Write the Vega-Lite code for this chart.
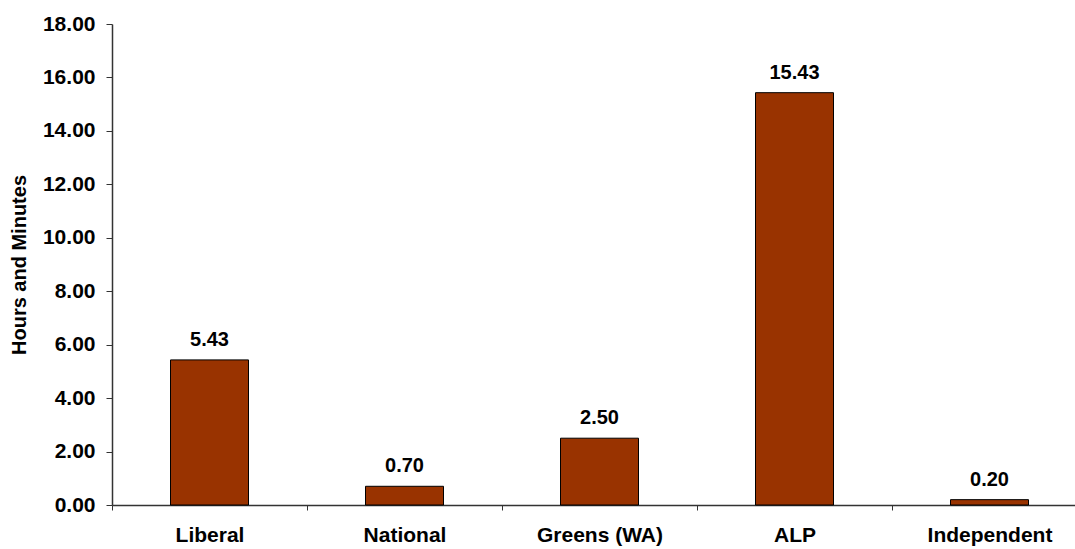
{
  "$schema": "https://vega.github.io/schema/vega-lite/v6.json",
  "autosize": {"type": "none"},
  "width": 963,
  "height": 481,
  "padding": {"left": 112, "top": 24, "right": 0, "bottom": 44},
  "background": "white",
  "config": {
    "view": {"stroke": null},
    "font": "Liberation Sans"
  },
  "data": {
    "values": [
      {"party": "Liberal", "hours": 5.43},
      {"party": "National", "hours": 0.70},
      {"party": "Greens (WA)", "hours": 2.50},
      {"party": "ALP", "hours": 15.43},
      {"party": "Independent", "hours": 0.20}
    ]
  },
  "encoding": {
    "x": {
      "field": "party",
      "type": "nominal",
      "sort": null,
      "scale": {"paddingInner": 0, "paddingOuter": 0, "range": [0, 975]},
      "axis": {
        "title": null,
        "labelAngle": 0,
        "labelFont": "Liberation Sans",
        "labelFontWeight": "bold",
        "labelFontSize": 21,
        "labelColor": "black",
        "labelPadding": 14,
        "tickBand": "extent",
        "tickSize": 5,
        "tickColor": "#333",
        "domainColor": "#333",
        "domainWidth": 1.5,
        "grid": false
      }
    },
    "y": {
      "field": "hours",
      "type": "quantitative",
      "scale": {"domain": [0, 18], "nice": false},
      "axis": {
        "title": "Hours and Minutes",
        "titleFont": "Liberation Sans",
        "titleFontSize": 20,
        "titleFontWeight": "bold",
        "titleColor": "black",
        "titlePadding": 13,
        "values": [0, 2, 4, 6, 8, 10, 12, 14, 16, 18],
        "format": ".2f",
        "labelFont": "Liberation Sans",
        "labelFontWeight": "bold",
        "labelFontSize": 21,
        "labelColor": "black",
        "labelPadding": 11,
        "tickSize": 6,
        "tickColor": "#333",
        "domainColor": "#333",
        "domainWidth": 1.5,
        "grid": false
      }
    }
  },
  "layer": [
    {
      "mark": {"type": "bar", "size": 78, "color": "#993300", "stroke": "black", "strokeWidth": 1}
    },
    {
      "mark": {"type": "text", "baseline": "bottom", "dy": -10, "font": "Liberation Sans", "fontWeight": "bold", "fontSize": 20, "color": "black"},
      "encoding": {
        "text": {"field": "hours", "type": "quantitative", "format": ".2f"}
      }
    }
  ]
}
